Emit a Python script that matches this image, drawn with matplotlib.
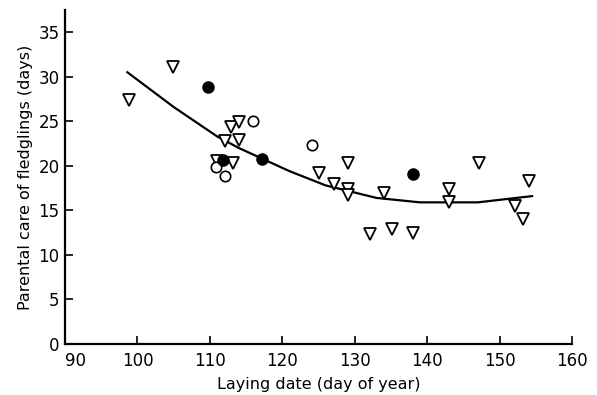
import matplotlib.pyplot as plt

plt.rcParams["font.family"] = ["DejaVu Sans"]

# open triangles
tri_x = [98.8, 104.9, 112.9, 114.0, 112.1, 114.0, 111.0, 113.2, 125.1, 129.1,
         127.2, 129.1, 129.1, 134.1, 132.1, 135.2, 138.1, 147.2, 143.0, 143.0,
         152.2, 153.3, 154.1]
tri_y = [27.4, 31.1, 24.4, 24.9, 22.8, 22.9, 20.5, 20.3, 19.2, 20.3,
         18.0, 17.4, 16.7, 16.9, 12.3, 12.9, 12.5, 20.3, 17.4, 15.9,
         15.5, 14.0, 18.3]

# open circles
oc_x = [116.0, 110.9, 112.1, 124.1]
oc_y = [25.0, 19.9, 18.9, 22.3]

# filled circles
fc_x = [109.8, 111.8, 117.2, 138.1]
fc_y = [28.8, 20.7, 20.8, 19.1]

# fitted curve
curve_x = [98.6, 105, 111, 114, 121, 126, 133, 139, 147, 154.5]
curve_y = [30.5, 26.6, 23.3, 22.0, 19.4, 17.8, 16.4, 15.9, 15.9, 16.6]

fig = plt.figure(figsize=(5.97, 3.95), dpi=100)
ax = fig.add_axes([0.109, 0.129, 0.849, 0.846])

ax.plot(curve_x, curve_y, color="black", linewidth=1.6, zorder=2)
ax.plot(tri_x, tri_y, linestyle="none", marker="v", markersize=9,
        markerfacecolor="white", markeredgecolor="black", markeredgewidth=1.3, zorder=3)
ax.plot(oc_x, oc_y, linestyle="none", marker="o", markersize=7.5,
        markerfacecolor="white", markeredgecolor="black", markeredgewidth=1.2, zorder=3)
ax.plot(fc_x, fc_y, linestyle="none", marker="o", markersize=8,
        markerfacecolor="black", markeredgecolor="black", zorder=4)

ax.set_xlim(90, 160)
ax.set_ylim(0, 37.5)
ax.set_xticks(range(90, 161, 10))
ax.set_yticks(range(0, 36, 5))

for side in ["top", "right"]:
    ax.spines[side].set_visible(False)
for side in ["left", "bottom"]:
    ax.spines[side].set_linewidth(1.6)

ax.tick_params(direction="in", length=6, width=1.2, labelsize=12)
ax.tick_params(axis="x", pad=6)
ax.tick_params(axis="y", pad=4)
ax.get_xticklabels()[0].set_ha("left")

ax.set_xlabel("Laying date (day of year)", fontsize=11.5, labelpad=5)
ax.set_ylabel("Parental care of fledglings (days)", fontsize=11.5, labelpad=4)

fig.savefig("out.png", dpi=100)
